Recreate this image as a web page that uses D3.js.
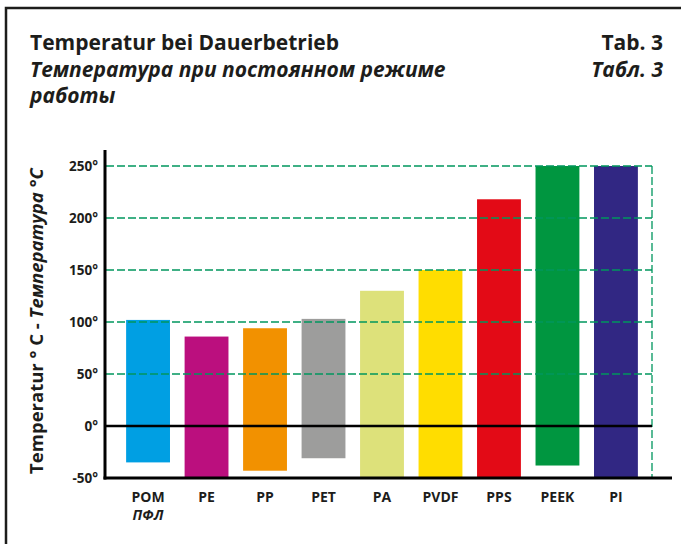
<!DOCTYPE html>
<html>
<head>
<meta charset="utf-8">
<style>
  body { margin: 0; background: #fff; }
  text { font-family: "Open Sans", "Noto Sans", sans-serif; font-weight: bold; fill: #1d1d1b; }
</style>
</head>
<body>
<svg id="chart" width="681" height="544"></svg>
<script src="https://d3js.org/d3.v7.min.js"></script>
<script>

// data
var materials = ["POM", "PE", "PP", "PET", "PA", "PVDF", "PPS", "PEEK", "PI"];
var tempMin = [-35, -50, -43, -31, -50, -50, -50, -38, -50];
var tempMax = [102, 86, 94, 103, 130, 150, 218, 250, 250];
var barColors = ["#009fe3", "#bb0f7e", "#f29100", "#9d9d9c", "#dde17a", "#ffdd00", "#e30a16", "#009640", "#312783"];
var yTicks = [-50, 0, 50, 100, 150, 200, 250];
var gridVals = [50, 100, 150, 200, 250];

var svg = d3.select("#chart");

// frame (left + top only, rest is cut off)
svg.append("path")
    .attr("d", "M6,544 V8 H681")
    .attr("fill", "none")
    .attr("stroke", "#1d1d1b")
    .attr("stroke-width", 2.5);

// titles
var tSize = "21px";
svg.append("text").attr("x", 30).attr("y", 50).style("font-size", tSize)
    .text("Temperatur bei Dauerbetrieb");
svg.append("text").attr("x", 30).attr("y", 76.5).style("font-size", tSize).style("font-style", "italic")
    .text("Температура при постоянном режиме");
svg.append("text").attr("x", 30).attr("y", 103).style("font-size", tSize).style("font-style", "italic")
    .text("работы");
svg.append("text").attr("x", 663).attr("y", 50).attr("text-anchor", "end").style("font-size", tSize)
    .text("Tab. 3");
svg.append("text").attr("x", 663).attr("y", 76.5).attr("text-anchor", "end").style("font-size", tSize).style("font-style", "italic")
    .text("Табл. 3");

var x = d3.scaleBand()
    .domain(materials)
    .range([111.5, 652.5])
    .paddingInner(0.25)
    .paddingOuter(0.25);

var y = d3.scaleLinear()
    .domain([-50, 250])
    .range([478, 166]);

var data = materials.map(function(m, i) {
  return {name: m, lo: tempMin[i], hi: tempMax[i], color: barColors[i]};
});

// bars
svg.append("g").selectAll("rect")
    .data(data)
  .enter().append("rect")
    .attr("x", function(d) { return x(d.name); })
    .attr("width", x.bandwidth())
    .attr("y", function(d) { return y(d.hi); })
    .attr("height", function(d) { return y(d.lo) - y(d.hi); })
    .attr("fill", function(d) { return d.color; });

// dashed grid over the bars
var grid = svg.append("g")
    .attr("stroke", "#00965e")
    .attr("stroke-width", 1.3)
    .attr("stroke-dasharray", "8,3");

grid.selectAll("line.h")
    .data(gridVals)
  .enter().append("line")
    .attr("class", "h")
    .attr("x1", 106).attr("x2", 652)
    .attr("y1", function(d) { return y(d); })
    .attr("y2", function(d) { return y(d); });

grid.append("line")
    .attr("x1", 652).attr("x2", 652)
    .attr("y1", y(250)).attr("y2", y(-50));

// zero line
svg.append("line")
    .attr("x1", 105).attr("x2", 652)
    .attr("y1", y(0)).attr("y2", y(0))
    .attr("stroke", "#000")
    .attr("stroke-width", 2.5);

// y axis
var yAxis = svg.append("g")
    .attr("transform", "translate(105,0)")
    .call(d3.axisLeft(y).tickValues(yTicks).tickSize(0).tickPadding(7)
      .tickFormat(function(d) { return d + "°"; }));
yAxis.select(".domain").remove();
yAxis.selectAll("text").style("font-size", "13.5px").attr("fill", "#1d1d1b")
    .attr("font-family", null);

svg.append("line")
    .attr("x1", 105).attr("x2", 105)
    .attr("y1", 150).attr("y2", 479.5)
    .attr("stroke", "#000").attr("stroke-width", 3);

// x axis
var xAxis = svg.append("g")
    .attr("transform", "translate(0,478)")
    .call(d3.axisBottom(x).tickSize(0).tickPadding(14));
xAxis.select(".domain").remove();
xAxis.selectAll("text").style("font-size", "14px").attr("fill", "#1d1d1b")
    .attr("font-family", null);

svg.append("line")
    .attr("x1", 103.5).attr("x2", 672)
    .attr("y1", 478).attr("y2", 478)
    .attr("stroke", "#000").attr("stroke-width", 3);

svg.append("text")
    .attr("x", x("POM") + x.bandwidth() / 2)
    .attr("y", 520)
    .attr("text-anchor", "middle")
    .style("font-size", "14px").style("font-style", "italic")
    .text("ПФЛ");

// y label
var yl = svg.append("text")
    .attr("transform", "translate(43,321) rotate(-90)")
    .attr("text-anchor", "middle")
    .style("font-size", "18.5px");
yl.append("tspan").text("Temperatur ° C - ");
yl.append("tspan").style("font-style", "italic").text("Температура °C");

</script>
</body>
</html>
